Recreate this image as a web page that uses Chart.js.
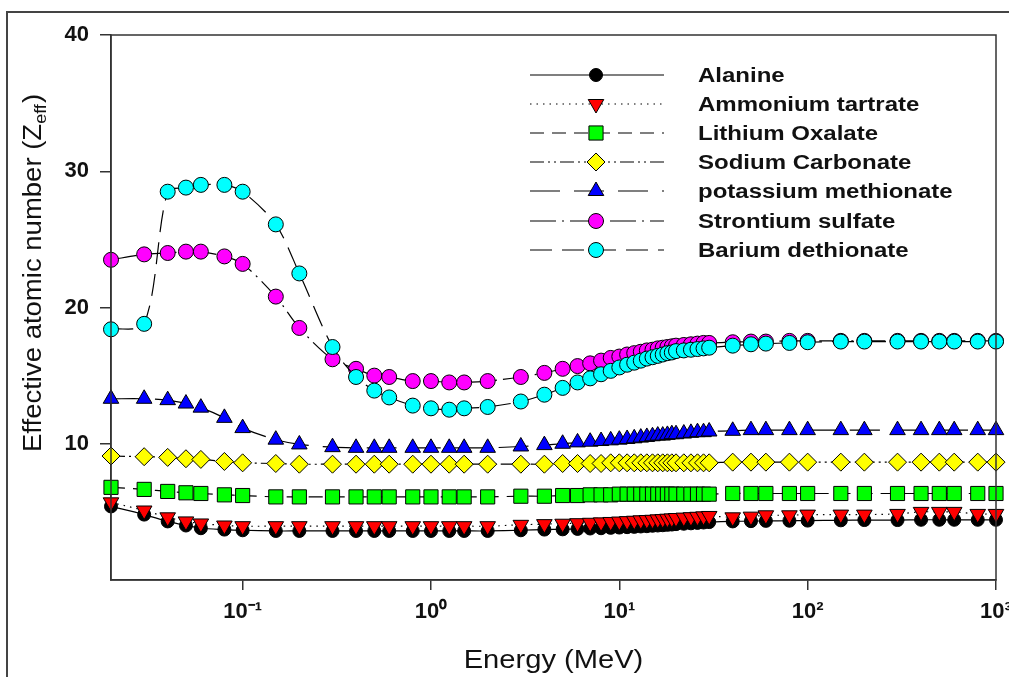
<!DOCTYPE html>
<html>
<head>
<meta charset="utf-8">
<title>Effective atomic number vs energy</title>
<script src="https://cdn.jsdelivr.net/npm/chart.js@4.4.1/dist/chart.umd.min.js"></script>
<style>
  html, body { margin: 0; padding: 0; background: #fff; }
  #wrap { width: 1009px; height: 677px; }
</style>
</head>
<body>
<div id="wrap"><canvas id="zeffChart" width="1009" height="677"></canvas></div>
<script>
// photon energies (MeV)
const energies = [0.02, 0.03, 0.04, 0.05, 0.06, 0.08, 0.1, 0.15, 0.2, 0.3, 0.4, 0.5, 0.6, 0.8, 1, 1.25, 1.5, 2,
  3, 4, 5, 6, 7, 8, 9, 10, 11, 12, 13, 14, 15, 16, 17, 18, 19, 20,
  22, 24, 26, 28, 30,
  40, 50, 60, 80, 100, 150, 200, 300, 400, 500, 600, 800, 1000];

const seriesNames = ["Alanine", "Ammonium tartrate", "Lithium Oxalate", "Sodium Carbonate",
  "potassium methionate", "Strontium sulfate", "Barium dethionate"];

const alanine = [5.4, 4.8, 4.3, 4.0, 3.8, 3.7, 3.65, 3.6, 3.6, 3.6, 3.6, 3.6, 3.6, 3.6, 3.6, 3.6, 3.6, 3.6,
  3.65, 3.7, 3.72, 3.75, 3.78, 3.8, 3.83, 3.85, 3.88, 3.9, 3.93, 3.95, 3.98, 4.0, 4.02, 4.05, 4.07, 4.1,
  4.13, 4.16, 4.19, 4.22, 4.25,
  4.3, 4.32, 4.34, 4.35, 4.36, 4.38, 4.4, 4.4, 4.42, 4.42, 4.42, 4.42, 4.42];

const ammoniumTartrate = [5.7, 5.1, 4.6, 4.3, 4.15, 4.0, 3.95, 3.95, 3.95, 3.95, 3.95, 3.95, 3.95, 3.95, 3.95, 3.95, 3.95, 3.95,
  4.05, 4.1, 4.13, 4.17, 4.2, 4.23, 4.26, 4.29, 4.32, 4.35, 4.38, 4.4, 4.42, 4.45, 4.47, 4.5, 4.52, 4.55,
  4.58, 4.61, 4.64, 4.67, 4.7,
  4.6, 4.65, 4.75, 4.75, 4.8, 4.8, 4.8, 4.85, 5.0, 5.0, 5.0, 4.85, 4.85];

const lithiumOxalate = [6.8, 6.65, 6.5, 6.4, 6.35, 6.25, 6.2, 6.1, 6.1, 6.1, 6.1, 6.1, 6.1, 6.1, 6.1, 6.1, 6.1, 6.1,
  6.15, 6.15, 6.2, 6.2, 6.25, 6.25, 6.25, 6.3, 6.3, 6.3, 6.3, 6.3, 6.3, 6.3, 6.3, 6.3, 6.3, 6.3,
  6.3, 6.3, 6.3, 6.3, 6.3,
  6.35, 6.35, 6.35, 6.35, 6.35, 6.35, 6.35, 6.35, 6.35, 6.35, 6.35, 6.35, 6.35];

const sodiumCarbonate = [9.1, 9.05, 9.0, 8.9, 8.85, 8.7, 8.6, 8.55, 8.5, 8.5, 8.5, 8.5, 8.5, 8.5, 8.5, 8.5, 8.5, 8.5,
  8.5, 8.5, 8.55, 8.55, 8.55, 8.55, 8.6, 8.6, 8.6, 8.6, 8.6, 8.6, 8.6, 8.6, 8.6, 8.6, 8.6, 8.6,
  8.6, 8.6, 8.6, 8.6, 8.6,
  8.65, 8.65, 8.65, 8.65, 8.65, 8.65, 8.65, 8.65, 8.65, 8.65, 8.65, 8.65, 8.65];

const potassiumMethionate = [13.3, 13.3, 13.2, 12.95, 12.65, 11.9, 11.15, 10.3, 9.95, 9.75, 9.7, 9.7, 9.7, 9.7, 9.7, 9.7, 9.7, 9.7,
  9.8, 9.9, 10.0, 10.1, 10.15, 10.2, 10.25, 10.3, 10.35, 10.4, 10.45, 10.5, 10.55, 10.6, 10.6, 10.65, 10.7, 10.7,
  10.75, 10.8, 10.85, 10.85, 10.9,
  10.95, 11.0, 11.0, 11.0, 11.0, 11.0, 11.0, 11.0, 11.0, 11.0, 11.0, 11.0, 11.0];

const strontiumSulfate = [23.5, 23.9, 24.0, 24.1, 24.1, 23.75, 23.2, 20.8, 18.5, 16.2, 15.5, 15.0, 14.9, 14.6, 14.6, 14.5, 14.5, 14.6,
  14.9, 15.2, 15.5, 15.7, 15.9, 16.1, 16.3, 16.4, 16.55, 16.65, 16.75, 16.85, 16.9, 17.0, 17.05, 17.1, 17.15, 17.2,
  17.25, 17.3, 17.35, 17.4, 17.4,
  17.45, 17.5, 17.5, 17.55, 17.55, 17.55, 17.55, 17.55, 17.55, 17.55, 17.55, 17.55, 17.55];

const bariumDethionate = [18.4, 18.8, 28.5, 28.8, 29.0, 29.0, 28.5, 26.1, 22.5, 17.1, 14.9, 13.9, 13.4, 12.8, 12.6, 12.5, 12.6, 12.7,
  13.1, 13.6, 14.1, 14.5, 14.8, 15.1, 15.35, 15.6, 15.8, 15.95, 16.1, 16.25, 16.35, 16.45, 16.55, 16.65, 16.7, 16.8,
  16.85, 16.9, 16.95, 17.0, 17.05,
  17.2, 17.3, 17.35, 17.4, 17.45, 17.5, 17.5, 17.5, 17.5, 17.5, 17.5, 17.5, 17.5];

const yTicks = [10, 20, 30, 40];
const xTicks = [0.1, 1, 10, 100, 1000];
const xTickLabels = ["10⁻¹", "10⁰", "10¹", "10²", "10³"];

const allSeries = [alanine, ammoniumTartrate, lithiumOxalate, sodiumCarbonate,
  potassiumMethionate, strontiumSulfate, bariumDethionate];

// look of each series (marker, fill, line dash)
const FONT = "'Liberation Sans', Arial, sans-serif";
const styles = [
  { color: "#000000", shape: "circle",   r: 6.5, rot: 0,   dash: [] },
  { color: "#ff0000", shape: "triangle", r: 9,   rot: 180, dash: [1.5, 5] },
  { color: "#00ff00", shape: "rect",     r: 10,  rot: 0,   dash: [14, 8] },
  { color: "#ffff00", shape: "rectRot",  r: 9,   rot: 0,   dash: [14, 4, 2, 4, 2, 4] },
  { color: "#0000ff", shape: "triangle", r: 9,   rot: 0,   dash: [30, 14] },
  { color: "#ff00ff", shape: "circle",   r: 7.5, rot: 0,   dash: [26, 6, 2, 6] },
  { color: "#00ffff", shape: "circle",   r: 7.5, rot: 0,   dash: [22, 10] }
];

const datasets = allSeries.map((vals, i) => ({
  label: seriesNames[i],
  data: energies.map((e, k) => ({ x: e, y: vals[k] })),
  borderColor: "#000",
  borderWidth: 1.2,
  borderDash: styles[i].dash,
  tension: 0.3,
  pointStyle: styles[i].shape,
  pointRadius: styles[i].r,
  pointRotation: styles[i].rot,
  pointBackgroundColor: styles[i].color,
  pointBorderColor: "#000",
  pointBorderWidth: 1,
  clip: false,
  order: allSeries.length - i
}));

function stretchText(ctx, text, x, y, sx) {
  ctx.save();
  ctx.translate(x, y);
  ctx.scale(sx, 1);
  ctx.fillText(text, 0, 0);
  ctx.restore();
}

function marker(ctx, st, x, y) {
  ctx.save();
  ctx.fillStyle = st.color;
  ctx.strokeStyle = "#000";
  ctx.lineWidth = 1;
  ctx.setLineDash([]);
  ctx.beginPath();
  const r = st.r;
  if (st.shape === "circle") {
    ctx.arc(x, y, r, 0, Math.PI * 2);
  } else if (st.shape === "rect") {
    const h = Math.SQRT1_2 * r;
    ctx.rect(x - h, y - h, 2 * h, 2 * h);
  } else if (st.shape === "rectRot") {
    ctx.moveTo(x - r, y); ctx.lineTo(x, y - r); ctx.lineTo(x + r, y); ctx.lineTo(x, y + r);
    ctx.closePath();
  } else {
    let a = st.rot * Math.PI / 180;
    ctx.moveTo(x + Math.sin(a) * r, y - Math.cos(a) * r);
    a += 2 * Math.PI / 3;
    ctx.lineTo(x + Math.sin(a) * r, y - Math.cos(a) * r);
    a += 2 * Math.PI / 3;
    ctx.lineTo(x + Math.sin(a) * r, y - Math.cos(a) * r);
    ctx.closePath();
  }
  ctx.fill();
  ctx.stroke();
  ctx.restore();
}

const decorPlugin = {
  id: "decor",
  beforeDraw(chart) {
    const ctx = chart.ctx;
    ctx.save();
    ctx.fillStyle = "#fff";
    ctx.fillRect(0, 0, chart.width, chart.height);
    ctx.restore();
  },
  afterDraw(chart) {
    const ctx = chart.ctx;
    const a = chart.chartArea;
    ctx.save();
    // plot box
    ctx.strokeStyle = "#333";
    ctx.lineWidth = 1.5;
    ctx.strokeRect(a.left, a.top, a.right - a.left, a.bottom - a.top);
    // outer frame (left + top)
    ctx.strokeStyle = "#444";
    ctx.lineWidth = 2;
    ctx.beginPath();
    ctx.moveTo(7, chart.height);
    ctx.lineTo(7, 12);
    ctx.lineTo(chart.width, 12);
    ctx.stroke();

    // legend
    const rowY = [75, 104, 133, 162, 191, 221, 250];
    ctx.font = "bold 20px " + FONT;
    ctx.textBaseline = "middle";
    ctx.textAlign = "left";
    styles.forEach((st, i) => {
      const y = rowY[i];
      ctx.strokeStyle = "#000";
      ctx.lineWidth = 1.2;
      ctx.setLineDash(st.dash);
      ctx.beginPath();
      ctx.moveTo(530, y);
      ctx.lineTo(664, y);
      ctx.stroke();
      ctx.setLineDash([]);
      marker(ctx, st, 596, y);
      ctx.fillStyle = "#111";
      stretchText(ctx, seriesNames[i], 698, y + 1, 1.2);
    });

    // x axis title
    ctx.fillStyle = "#111";
    ctx.font = "26px " + FONT;
    ctx.textAlign = "center";
    ctx.textBaseline = "middle";
    stretchText(ctx, "Energy (MeV)", (a.left + a.right) / 2, 661, 1.12);

    // y axis title with subscript
    ctx.save();
    ctx.translate(41, 452);
    ctx.rotate(-Math.PI / 2);
    ctx.textAlign = "left";
    ctx.textBaseline = "alphabetic";
    ctx.font = "26px " + FONT;
    const main = "Effective atomic number (Z";
    const mw = ctx.measureText(main).width;
    ctx.font = "17px " + FONT;
    const sw = ctx.measureText("eff").width;
    ctx.font = "26px " + FONT;
    const cw = ctx.measureText(")").width;
    const sx = 357 / (mw + sw + cw);
    ctx.scale(sx, 1);
    ctx.fillText(main, 0, 0);
    ctx.font = "17px " + FONT;
    ctx.fillText("eff", mw, 5);
    ctx.font = "26px " + FONT;
    ctx.fillText(")", mw + sw + 1, 0);
    ctx.restore();
    ctx.restore();
  }
};

new Chart(document.getElementById("zeffChart"), {
  type: "line",
  data: { datasets: datasets },
  plugins: [decorPlugin],
  options: {
    responsive: false,
    animation: false,
    devicePixelRatio: 1,
    layout: { padding: { top: 35, right: 13, left: 0, bottom: 0 } },
    plugins: { legend: { display: false }, tooltip: { enabled: false } },
    scales: {
      x: {
        type: "logarithmic",
        min: 0.02,
        max: 1000,
        afterBuildTicks: s => { s.ticks = xTicks.map(v => ({ value: v })); },
        afterFit: s => { s.height = 97; s.paddingLeft = 0; s.paddingRight = 0; },
        ticks: {
          callback: (v, i) => xTickLabels[i],
          autoSkip: false,
          maxRotation: 0,
          padding: 9,
          color: "#111",
          font: { family: FONT, size: 22, weight: "bold" }
        },
        grid: { drawOnChartArea: false, tickLength: 10, color: "#333", lineWidth: 1.5 },
        border: { display: true, color: "#333", width: 1.5 }
      },
      y: {
        min: 0,
        max: 40,
        afterBuildTicks: s => { s.ticks = yTicks.map(v => ({ value: v })); },
        afterFit: s => { s.width = 111; s.paddingTop = 0; s.paddingBottom = 0; },
        ticks: {
          padding: 11,
          color: "#111",
          font: { family: FONT, size: 22, weight: "bold" }
        },
        grid: { drawOnChartArea: false, tickLength: 11, color: "#333", lineWidth: 1.5 },
        border: { display: true, color: "#333", width: 1.5 }
      }
    }
  }
});
</script>
</body>
</html>
